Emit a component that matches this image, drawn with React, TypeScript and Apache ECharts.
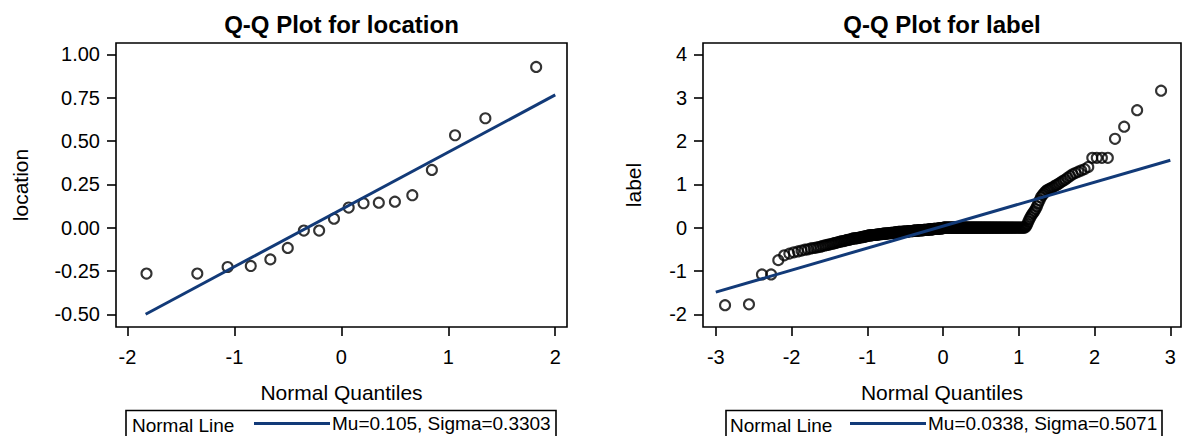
import React, { useEffect, useRef } from "react";
import * as echarts from "echarts";

// ---- data ----
// sorted observed values of "location" (18 observations)
const locationValues = [
  -0.265, -0.265, -0.227, -0.221, -0.183, -0.117, -0.017, -0.017, 0.052,
  0.116, 0.141, 0.144, 0.15, 0.187, 0.333, 0.533, 0.631, 0.927,
];

// sorted observed values of "label" as [value, how many times] runs (312 observations)
const labelValueRuns: [number, number][] = [
  [-1.79, 1], [-1.77, 1], [-1.08, 2],
  [-0.75, 1], [-0.64, 1], [-0.6, 1], [-0.57, 1], [-0.55, 1], [-0.53, 1],
  [-0.51, 1], [-0.5, 1], [-0.48, 1], [-0.47, 1], [-0.46, 1], [-0.45, 1],
  [-0.44, 1], [-0.42, 1], [-0.41, 1], [-0.4, 1], [-0.39, 1], [-0.38, 1],
  [-0.37, 1], [-0.36, 1], [-0.35, 1], [-0.34, 1], [-0.33, 1], [-0.32, 1],
  [-0.31, 2], [-0.3, 1], [-0.29, 1], [-0.28, 2], [-0.27, 1], [-0.26, 1],
  [-0.25, 3], [-0.24, 2], [-0.23, 2], [-0.22, 2], [-0.21, 2], [-0.2, 2], [-0.19, 1],
  [-0.18, 4], [-0.17, 4], [-0.16, 4], [-0.15, 4],
  [-0.14, 5], [-0.13, 5], [-0.12, 5], [-0.11, 5],
  [-0.1, 7], [-0.09, 8], [-0.08, 7],
  [-0.07, 8], [-0.06, 8], [-0.05, 8],
  [-0.04, 8], [-0.03, 8], [-0.015, 8],
  [0, 113],
  [0.03, 1], [0.08, 1], [0.14, 1], [0.2, 1], [0.25, 1], [0.3, 1], [0.34, 1],
  [0.38, 1], [0.43, 1], [0.49, 1], [0.56, 1], [0.63, 1], [0.7, 1], [0.75, 1], [0.79, 1],
  [0.83, 1], [0.86, 1], [0.88, 1], [0.9, 1], [0.92, 1], [0.94, 1], [0.97, 1],
  [0.99, 1], [1.02, 1], [1.05, 1], [1.08, 1], [1.11, 1], [1.15, 1], [1.19, 1],
  [1.23, 1], [1.26, 1], [1.29, 1], [1.32, 1], [1.35, 1], [1.4, 1],
  [1.61, 4], [2.05, 1], [2.33, 1], [2.71, 1], [3.16, 1],
];

const locationMu = 0.105;
const locationSigma = 0.3303;
const labelMu = 0.0338;
const labelSigma = 0.5071;
const locationLineX = [-1.83, 2.0];
const labelLineX = [-3, 3];

const locationXTicks = [-2, -1, 0, 1, 2];
const locationYTicks = [-0.5, -0.25, 0, 0.25, 0.5, 0.75, 1];
const labelXTicks = [-3, -2, -1, 0, 1, 2, 3];
const labelYTicks = [-2, -1, 0, 1, 2, 3, 4];

const titles = ["Q-Q Plot for location", "Q-Q Plot for label"];
const yNames = ["location", "label"];
const xName = "Normal Quantiles";
const legendHeader = "Normal Line";
const locationLegend = `Mu=${locationMu}, Sigma=${locationSigma}`;
const labelLegend = `Mu=${labelMu}, Sigma=${labelSigma}`;

// ---- Q-Q helpers ----
function invNorm(p: number): number {
  const a = [-3.969683028665376e1, 2.209460984245205e2, -2.759285104469687e2, 1.38357751867269e2, -3.066479806614716e1, 2.506628277459239];
  const b = [-5.447609879822406e1, 1.615858368580409e2, -1.556989798598866e2, 6.680131188771972e1, -1.328068155288572e1];
  const c = [-7.784894002430293e-3, -3.223964580411365e-1, -2.400758277161838, -2.549732539343734, 4.374664141464968, 2.938163982698783];
  const d = [7.784695709041462e-3, 3.224671290700398e-1, 2.445134137142996, 3.754408661907416];
  const plow = 0.02425;
  if (p < plow) {
    const q = Math.sqrt(-2 * Math.log(p));
    return (((((c[0] * q + c[1]) * q + c[2]) * q + c[3]) * q + c[4]) * q + c[5]) /
      ((((d[0] * q + d[1]) * q + d[2]) * q + d[3]) * q + 1);
  }
  if (p <= 1 - plow) {
    const q = p - 0.5;
    const r = q * q;
    return ((((((a[0] * r + a[1]) * r + a[2]) * r + a[3]) * r + a[4]) * r + a[5]) * q) /
      (((((b[0] * r + b[1]) * r + b[2]) * r + b[3]) * r + b[4]) * r + 1);
  }
  const q = Math.sqrt(-2 * Math.log(1 - p));
  return -(((((c[0] * q + c[1]) * q + c[2]) * q + c[3]) * q + c[4]) * q + c[5]) /
    ((((d[0] * q + d[1]) * q + d[2]) * q + d[3]) * q + 1);
}

function expandRuns(runs: [number, number][]): number[] {
  const out: number[] = [];
  runs.forEach(([v, n]) => {
    for (let i = 0; i < n; i++) out.push(v);
  });
  return out;
}

function qqPoints(sorted: number[]): number[][] {
  const n = sorted.length;
  return sorted.map((v, i) => [invNorm((i + 1 - 0.375) / (n + 0.25)), v]);
}

const FONT = "'Liberation Sans', Arial, Helvetica, sans-serif";
const LINE_COLOR = "#123a78";

function makeXAxis(gridIndex: number, min: number, max: number, ticks: number[]) {
  return {
    type: "value",
    gridIndex,
    min,
    max,
    name: xName,
    nameLocation: "middle",
    nameGap: 65,
    nameTextStyle: { fontSize: 21, color: "#000", fontFamily: FONT, verticalAlign: "middle", align: "center" },
    axisLine: { show: false, onZero: false },
    axisTick: { show: true, length: 9, lineStyle: { color: "#000", width: 1.6 }, customValues: ticks },
    axisLabel: {
      customValues: ticks,
      fontSize: 20,
      color: "#000",
      fontFamily: FONT,
      margin: 30,
      verticalAlign: "middle",
      formatter: (v: number) => String(v),
    },
    splitLine: { show: false },
  };
}

function makeYAxis(gridIndex: number, min: number, max: number, ticks: number[], name: string, gap: number, digits: number) {
  return {
    type: "value",
    gridIndex,
    min,
    max,
    name,
    nameLocation: "middle",
    nameRotate: 90,
    nameGap: gap,
    nameTextStyle: { fontSize: 21, color: "#000", fontFamily: FONT, verticalAlign: "middle", align: "center" },
    axisLine: { show: false, onZero: false },
    axisTick: { show: true, length: 9, lineStyle: { color: "#000", width: 1.6 }, customValues: ticks },
    axisLabel: {
      customValues: ticks,
      fontSize: 20,
      color: "#000",
      fontFamily: FONT,
      margin: 16,
      formatter: (v: number) => v.toFixed(digits),
    },
    splitLine: { show: false },
  };
}

export default function App() {
  const ref = useRef<HTMLDivElement>(null);

  useEffect(() => {
    if (!ref.current) return;
    const chart = echarts.init(ref.current, null, { renderer: "svg" });

    const locPts = qqPoints(locationValues);
    const labPts = qqPoints(expandRuns(labelValueRuns));

    const scatterStyle = {
      type: "scatter",
      symbol: "circle",
      symbolSize: 10,
      itemStyle: { color: "transparent", borderColor: "#000", borderWidth: 2.1 },
      emphasis: { disabled: true },
      silent: true,
      z: 2,
    };

    const legendCommon = {
      orient: "horizontal",
      icon: "rect",
      itemWidth: 76,
      itemHeight: 3,
      padding: 0,
      itemGap: 0,
      selectedMode: false,
      textStyle: { fontSize: 19, color: "#000", fontFamily: FONT, padding: [0, 0, 0, -3] },
    };

    chart.setOption({
      animation: false,
      backgroundColor: "#fff",
      grid: [
        { left: 116, top: 43, width: 451, height: 284, show: true, borderColor: "#000", borderWidth: 1.6, backgroundColor: "transparent" },
        { left: 703, top: 43, width: 478, height: 284, show: true, borderColor: "#000", borderWidth: 1.6, backgroundColor: "transparent" },
      ],
      xAxis: [
        makeXAxis(0, -2.107, 2.11, locationXTicks),
        makeXAxis(1, -3.169, 3.141, labelXTicks),
      ],
      yAxis: [
        makeYAxis(0, -0.573, 1.065, locationYTicks, yNames[0], 95.6, 2),
        makeYAxis(1, -2.293, 4.26, labelYTicks, yNames[1], 69.3, 0),
      ],
      legend: [
        { ...legendCommon, data: [locationLegend], left: 254, top: 414 },
        { ...legendCommon, data: [labelLegend], left: 850, top: 414 },
      ],
      series: [
        { ...scatterStyle, name: "location", xAxisIndex: 0, yAxisIndex: 0, data: locPts },
        {
          type: "line",
          name: locationLegend,
          xAxisIndex: 0,
          yAxisIndex: 0,
          data: locationLineX.map((x) => [x, locationMu + locationSigma * x]),
          symbol: "none",
          showSymbol: false,
          lineStyle: { color: LINE_COLOR, width: 3 },
          itemStyle: { color: LINE_COLOR },
          silent: true,
          z: 3,
        },
        { ...scatterStyle, name: "label", xAxisIndex: 1, yAxisIndex: 1, data: labPts },
        {
          type: "line",
          name: labelLegend,
          xAxisIndex: 1,
          yAxisIndex: 1,
          data: labelLineX.map((x) => [x, labelMu + labelSigma * x]),
          symbol: "none",
          showSymbol: false,
          lineStyle: { color: LINE_COLOR, width: 3 },
          itemStyle: { color: LINE_COLOR },
          silent: true,
          z: 3,
        },
      ],
      graphic: [
        { type: "text", x: 341.5, y: 24, style: { text: titles[0], fontSize: 24, fontWeight: "bold", fontFamily: FONT, fill: "#000", align: "center", verticalAlign: "middle" } },
        { type: "text", x: 942, y: 24, style: { text: titles[1], fontSize: 24, fontWeight: "bold", fontFamily: FONT, fill: "#000", align: "center", verticalAlign: "middle" } },
        { type: "rect", shape: { x: 126, y: 410.5, width: 430, height: 32 }, style: { fill: "none", stroke: "#000", lineWidth: 1.6 } },
        { type: "text", x: 132, y: 425, style: { text: legendHeader, fontSize: 19, fontFamily: FONT, fill: "#000", align: "left", verticalAlign: "middle" } },
        { type: "rect", shape: { x: 726, y: 410.5, width: 436, height: 32 }, style: { fill: "none", stroke: "#000", lineWidth: 1.6 } },
        { type: "text", x: 730, y: 425, style: { text: legendHeader, fontSize: 19, fontFamily: FONT, fill: "#000", align: "left", verticalAlign: "middle" } },
      ],
    });

    return () => chart.dispose();
  }, []);

  return (
    <div
      ref={ref}
      style={{ position: "fixed", left: 0, top: 0, width: 1183, height: 436, background: "#fff" }}
    />
  );
}
